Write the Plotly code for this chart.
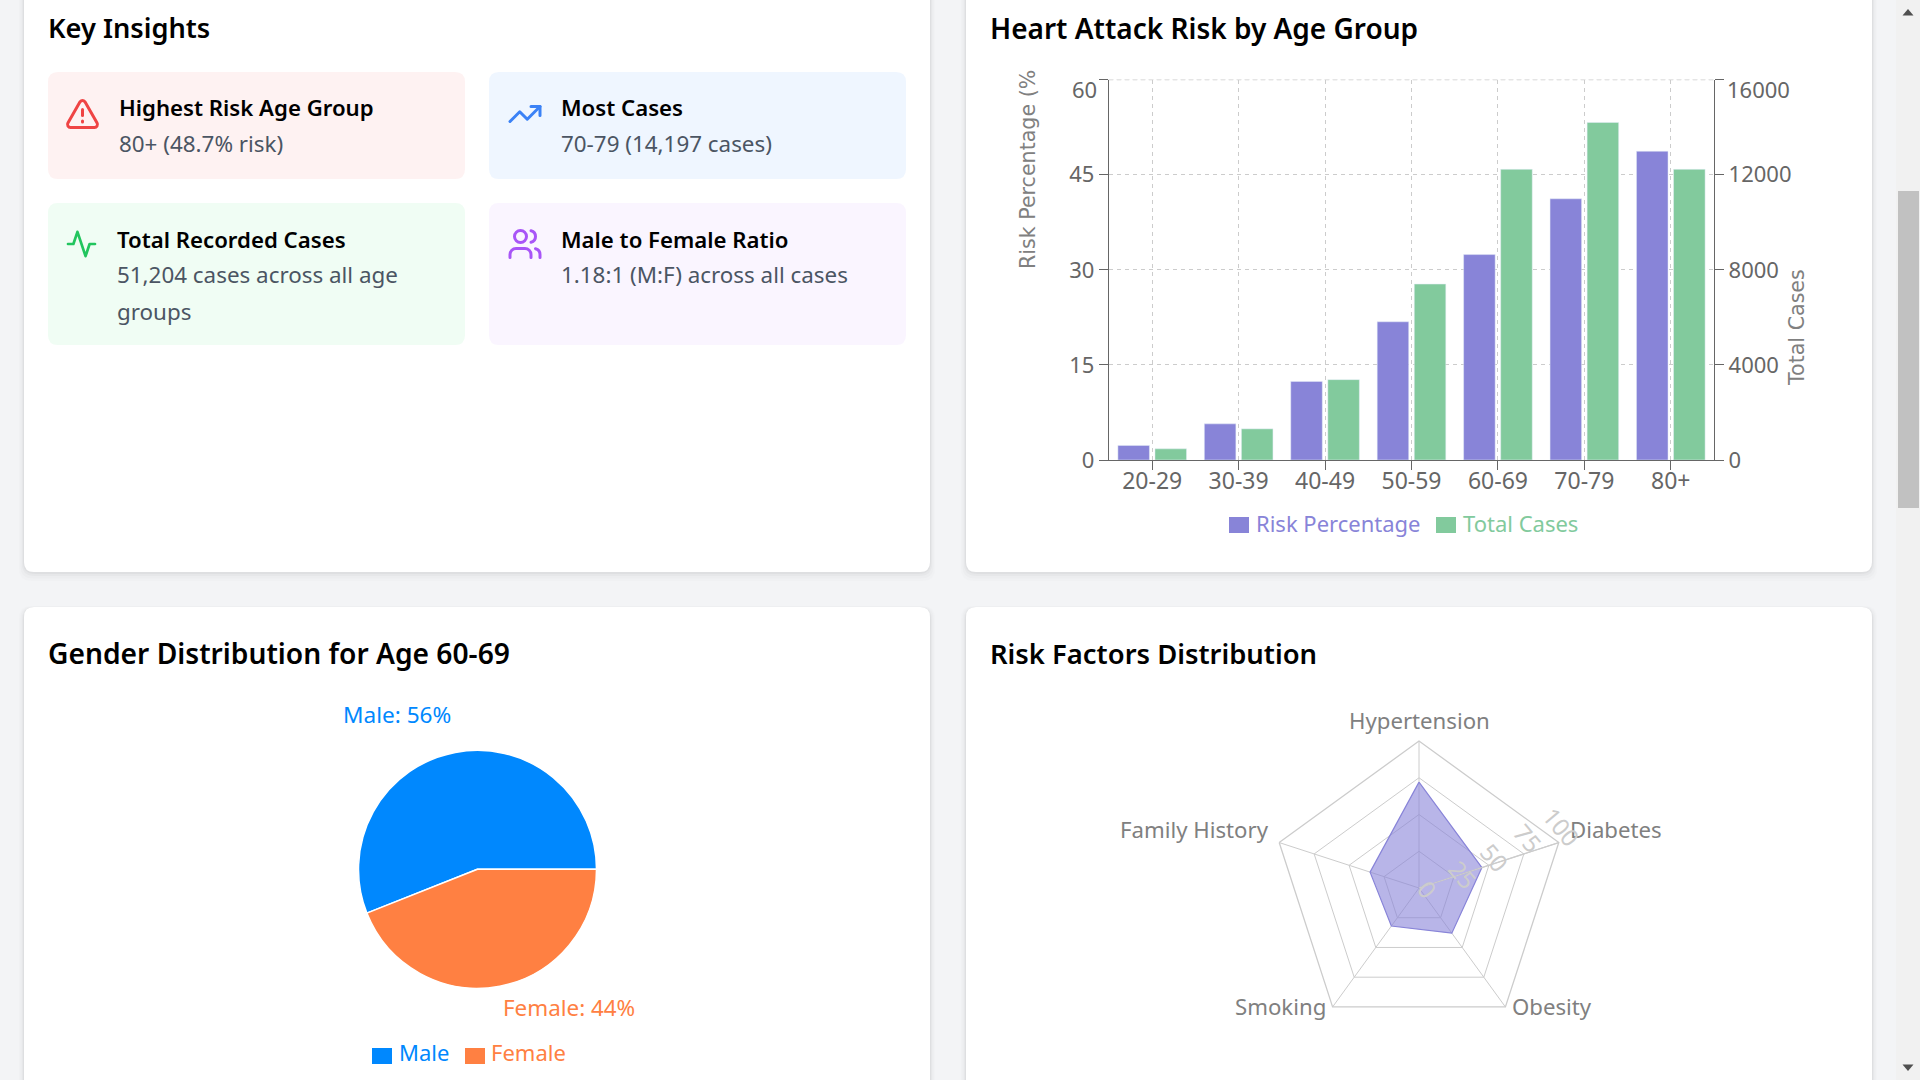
import re
import math
import plotly.graph_objects as go

W, H = 1920, 1080
age_groups = ["20-29", "30-39", "40-49", "50-59", "60-69", "70-79", "80+"]
risk_pct = [2.3, 5.7, 12.4, 21.8, 32.4, 41.2, 48.7]
total_cases = [470, 1310, 3380, 7400, 12225, 14197, 12225]
risk_ticks = [0, 15, 30, 45, 60]
case_ticks = [0, 4000, 8000, 12000, 16000]
gender_labels = ["Male", "Female"]
gender_values = [56, 44]
factors = ["Hypertension", "Diabetes", "Obesity", "Smoking", "Family History"]
factor_values = [72, 45, 38, 32, 35]
radial_ticks = [0, 25, 50, 75, 100]

FONT = "Noto Sans"
PURPLE, GREEN, BLUE, ORANGE = "#8884d8", "#82ca9d", "#0088FE", "#FF8042"

def fx(x): return x / W
def fy(y): return 1 - y / H

def path_px(d, ox=0, oy=0, s=1):
    toks = re.findall(r"[MLHVCQZ]|-?\d+\.?\d*", d)
    out, i, cx, cy = [], 0, 0, 0
    cmd = None
    def pt(x, y):
        return f"{fx(ox + x * s):.6f},{fy(oy + y * s):.6f}"
    while i < len(toks):
        t = toks[i]
        if t.isalpha():
            cmd = t; i += 1
            if cmd == "Z": out.append("Z")
            continue
        if cmd in "ML":
            cx, cy = float(toks[i]), float(toks[i + 1]); i += 2
            out.append(cmd + pt(cx, cy))
        elif cmd == "H":
            cx = float(toks[i]); i += 1
            out.append("L" + pt(cx, cy))
        elif cmd == "V":
            cy = float(toks[i]); i += 1
            out.append("L" + pt(cx, cy))
        elif cmd == "Q":
            a = [float(v) for v in toks[i:i + 4]]; i += 4
            cx, cy = a[2], a[3]
            out.append("Q" + pt(a[0], a[1]) + " " + pt(a[2], a[3]))
        elif cmd == "C":
            a = [float(v) for v in toks[i:i + 6]]; i += 6
            cx, cy = a[4], a[5]
            out.append("C" + pt(a[0], a[1]) + " " + pt(a[2], a[3]) + " " + pt(a[4], a[5]))
    return " ".join(out)

def rrect(x0, y0, x1, y1, r):
    return (f"M{x0 + r} {y0} H{x1 - r} Q{x1} {y0} {x1} {y0 + r} V{y1 - r} Q{x1} {y1} {x1 - r} {y1} "
            f"H{x0 + r} Q{x0} {y1} {x0} {y1 - r} V{y0 + r} Q{x0} {y0} {x0 + r} {y0} Z")

shapes = []
def fill_path(d, color):
    shapes.append(dict(type="path", xref="paper", yref="paper", path=path_px(d), fillcolor=color,
                       line=dict(width=0), layer="below"))

def card(x0, y0, x1, y1):
    for grow, off, alpha in [(5, 4, 0.012), (3.5, 3, 0.016), (2, 2, 0.022), (1, 1, 0.03)]:
        fill_path(rrect(x0 - grow, y0 - grow + off, x1 + grow, y1 + grow + off, 12), f"rgba(0,0,0,{alpha})")
    fill_path(rrect(x0, y0, x1, y1, 10), "#ffffff")

for c in [(24, -40, 930, 572), (966, -40, 1872, 572), (24, 607, 930, 1130), (966, 607, 1872, 1130)]:
    card(*c)

for box, col in [((48, 72, 465, 179), "#fef2f2"), ((489, 72, 906, 179), "#eff6ff"),
                 ((48, 203, 465, 345), "#f0fdf4"), ((489, 203, 906, 345), "#faf5ff")]:
    fill_path(rrect(*box, 10), col)

def icon(paths, cx, cy, s, color):
    for p in paths:
        shapes.append(dict(type="path", xref="paper", yref="paper",
                           path=path_px(p, cx - 12 * s, cy - 12 * s, s),
                           line=dict(color=color, width=2 * s), layer="above"))

icon(["M21.73 18 L13.73 4 Q12 2 10.27 4 L2.27 18 C1.5 19.3 2.5 21 4 21 H20 C21.5 21 22.5 19.3 21.73 18 Z",
      "M12 9 V13", "M12 16.6 V17.4"], 82.5, 114, 1.5, "#ef4444")
icon(["M22 7 L13.5 15.5 L8.5 10.5 L2 17", "M16 7 H22 V13"], 525, 114, 1.5, "#3b82f6")
icon(["M22 12 H18 L15 21 L9 3 L6 12 H2"], 81.5, 244, 1.35, "#22c55e")
icon(["M16 21 V19 C16 16.8 14.2 15 12 15 H6 C3.8 15 2 16.8 2 19 V21",
      "M13 7 C13 9.2 11.2 11 9 11 C6.8 11 5 9.2 5 7 C5 4.8 6.8 3 9 3 C11.2 3 13 4.8 13 7 Z",
      "M22 21 V19 C22 17.2 20.8 15.6 19 15.13", "M16 3.13 C17.8 3.6 19 5.2 19 7 C19 8.8 17.8 10.4 16 10.88"],
     525, 244, 1.5, "#a855f7")

# scrollbar
fill_path("M1896 0 H1920 V1080 H1896 Z", "#f1f1f1")
fill_path("M1898 191 H1919 V508 H1898 Z", "#c1c1c1")
fill_path("M1908 9 L1913.5 15.5 H1902.5 Z", "#505050")
fill_path("M1908 1071 L1913.5 1064.5 H1902.5 Z", "#505050")

annots = []
def text(s, x, y, size, color, anchor="left", weight=None, family=FONT, angle=None, yanchor="middle"):
    font = dict(family=family, size=size, color=color)
    if weight: font["weight"] = weight
    a = dict(text=s, x=fx(x), y=fy(y), xref="paper", yref="paper", xanchor=anchor, yanchor=yanchor,
             showarrow=False, font=font, borderpad=0, borderwidth=0)
    if angle is not None: a["textangle"] = angle
    annots.append(a)

for s, x, y, sz in [("Key Insights", 48, 28, 27.2), ("Heart Attack Risk by Age Group", 990, 28, 28),
                    ("Gender Distribution for Age 60-69", 48, 653, 28.2), ("Risk Factors Distribution", 990, 653, 27.4)]:
    text(s, x, y, sz, "#000000", weight=600)

for s, x, y in [("Highest Risk Age Group", 119, 108), ("Most Cases", 561, 108),
                ("Total Recorded Cases", 117, 239), ("Male to Female Ratio", 561, 239)]:
    text(s, x, y, 22.2, "#000000", weight=600)
for s, x, y in [("80+ (48.7% risk)", 119, 143), ("70-79 (14,197 cases)", 561, 143),
                ("51,204 cases across all age", 117, 274), ("groups", 117, 311),
                ("1.18:1 (M:F) across all cases", 561, 274)]:
    text(s, x, y, 22.4, "#4b5563")

TICK = "#666666"
text("60", 1097, 89, 22, TICK, anchor="right")
text("16000", 1727, 89, 22, TICK)
text("Risk Percentage (%", 1028, 170, 20.6, "#808080", anchor="center", family="DejaVu Sans", angle=-90)
text("Total Cases", 1797, 328, 20.6, "#808080", anchor="center", family="DejaVu Sans", angle=-90)

def legend_item(s, color, sx0, sy0, tx, ty):
    fill_path(f"M{sx0} {sy0} H{sx0 + 20} V{sy0 + 16} H{sx0} Z", color)
    text(s, tx, ty, 22, color)

legend_item("Risk Percentage", PURPLE, 1229, 517, 1256, 523)
legend_item("Total Cases", GREEN, 1436, 517, 1463, 523)
legend_item(gender_labels[0], BLUE, 372, 1048, 399, 1052)
legend_item(gender_labels[1], ORANGE, 465, 1048, 491, 1052)
text(f"{gender_labels[0]}: {gender_values[0]}%", 397, 714, 22.6, BLUE, anchor="center")
text(f"{gender_labels[1]}: {gender_values[1]}%", 569, 1007, 22.4, ORANGE, anchor="center")

# radar labels
PCX, PCY, PR = 1419, 888, 147
angular_pos = [(1419, 720, "center"), (1570, 829, "left"), (1512, 1006, "left"),
               (1326, 1006, "right"), (1269, 829, "right")]
for name, (x, y, anc) in zip(factors, angular_pos):
    text(name, x, y, 22.2, "#808080", anchor=anc)
radial_nudge = [(9, 1), (12, 5), (12, 6), (13, 5), (15, 12)]
for v, (dx, dy) in zip(radial_ticks, radial_nudge):
    rr = v / radial_ticks[-1] * PR
    text(str(v), PCX + rr * math.cos(math.radians(30)) + dx, PCY - rr * math.sin(math.radians(30)) + dy,
         24, "#cccccc", anchor="center", angle=50)

shapes.append(dict(type="line", xref="x domain", yref="y", x0=0, x1=1, y0=risk_ticks[-1], y1=risk_ticks[-1],
                   line=dict(color="#cccccc", width=1.25, dash="4px,4px"), layer="below"))

fig = go.Figure()
fig.add_bar(x=age_groups, y=risk_pct, name="Risk Percentage", marker=dict(color=PURPLE), width=0.365, offset=-0.397,
            xaxis="x", yaxis="y")
fig.add_bar(x=age_groups, y=total_cases, name="Total Cases", marker=dict(color=GREEN), width=0.365, offset=0.032,
            xaxis="x", yaxis="y2")
fig.add_pie(labels=gender_labels, values=gender_values, sort=False, direction="clockwise",
            rotation=90 - 360 * gender_values[0] / sum(gender_values),
            marker=dict(colors=[BLUE, ORANGE], line=dict(color="#ffffff", width=1.5)), textinfo="none",
            domain=dict(x=[fx(477.5 - 119), fx(477.5 + 119)], y=[fy(869.3 + 119), fy(869.3 - 119)]), showlegend=False)
fig.add_scatterpolar(r=factor_values + factor_values[:1], theta=factors + factors[:1], fill="toself", mode="lines",
                     fillcolor="rgba(136,132,216,0.6)", line=dict(color=PURPLE, width=1.2), showlegend=False)

axis_common = dict(showline=True, linecolor=TICK, linewidth=1.3, ticks="outside", tickcolor=TICK, ticklen=9,
                   tickwidth=1.3, zeroline=False)
tick_font = dict(family=FONT, size=22, color=TICK)
fig.update_layout(
    width=W, height=H, margin=dict(l=0, r=0, t=0, b=0, autoexpand=False), autosize=False,
    paper_bgcolor="#f3f4f6", plot_bgcolor="rgba(0,0,0,0)", showlegend=False, barmode="overlay",
    font=dict(family=FONT),
    xaxis=dict(domain=[fx(1109), fx(1714)], anchor="y", type="category", range=[-0.5, 6.5], showgrid=True,
               gridcolor="#cccccc", griddash="4px,4px", gridwidth=1.3, tickfont=dict(family=FONT, size=23, color=TICK),
               ticklabelstandoff=-9, **axis_common),
    yaxis=dict(domain=[fy(460), fy(79.6)], anchor="x", range=[0, 60], tickvals=risk_ticks,
               ticktext=[str(v) if v != 60 else " " for v in risk_ticks], showgrid=True,
               gridcolor="#cccccc", griddash="4px,4px", gridwidth=1.3, tickfont=tick_font, **axis_common),
    yaxis2=dict(domain=[fy(460), fy(79.6)], anchor="x", overlaying="y", side="right", range=[0, 16000],
                tickvals=case_ticks, ticktext=[str(v) if v != 16000 else " " for v in case_ticks],
                showgrid=False, tickfont=tick_font, **axis_common),
    polar=dict(
        domain=dict(x=[fx(PCX - PR), fx(PCX + PR)], y=[fy(PCY + PR), fy(PCY - PR)]),
        bgcolor="rgba(0,0,0,0)", gridshape="linear",
        angularaxis=dict(direction="clockwise", rotation=90, categoryorder="array", categoryarray=factors,
                         linecolor="#cccccc", linewidth=1.3, gridcolor="#cccccc", gridwidth=1.3, ticks="",
                         showticklabels=False),
        radialaxis=dict(range=[0, 100], angle=30, tickvals=radial_ticks, showline=True,
                        linecolor="#cccccc", linewidth=1.3, gridcolor="#cccccc", gridwidth=1.3, ticks="",
                        showticklabels=False),
    ),
    shapes=shapes, annotations=annots,
)
fig.write_html("out.html", config=dict(displayModeBar=False),
               post_script="document.documentElement.style.overflow='hidden';document.body.style.margin='0';document.body.style.overflow='hidden';"
                           "document.querySelectorAll('.shapelayer path').forEach(function(p){p.style.strokeLinecap='round';p.style.strokeLinejoin='round';});")
